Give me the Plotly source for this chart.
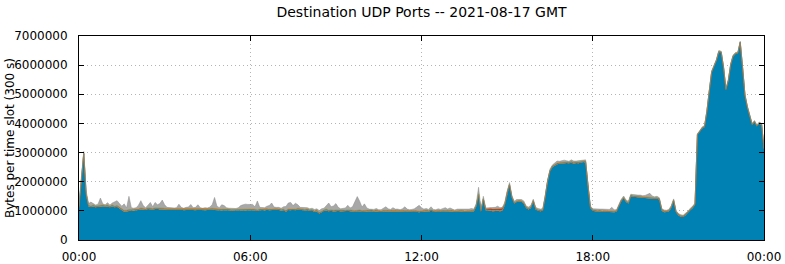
import pandas as pd
import plotly.graph_objects as go

# 5-minute time slots for 2021-08-17 (00:00 .. 24:00)
times = pd.date_range("2021-08-17 00:00", periods=289, freq="5min")

# Values in millions of bytes per 300 s slot
port_main = [
    1.10,1.95,2.95,1.55,1.15,1.13,1.15,1.12,1.14,1.13,1.16,1.13,
    1.15,1.12,1.16,1.12,1.14,1.08,1.02,0.97,0.98,1.00,1.01,1.00,
    1.02,1.03,1.05,1.04,1.03,1.06,1.05,1.04,1.06,1.07,1.05,1.04,
    1.05,1.04,1.03,1.04,1.03,1.02,1.03,1.04,1.02,1.03,1.04,1.03,
    1.03,1.02,1.04,1.03,1.02,1.02,1.03,1.04,1.05,1.03,1.02,1.03,
    1.01,1.02,1.03,1.02,1.00,1.01,1.00,1.02,1.01,1.00,1.01,1.02,
    1.02,1.03,1.01,1.00,1.02,1.03,1.01,1.04,1.02,1.03,1.02,1.04,
    1.03,1.00,1.02,0.97,1.03,1.02,1.04,1.02,1.05,1.03,1.02,1.01,
    1.02,1.00,1.01,0.96,0.98,0.91,0.95,1.00,1.01,0.99,1.00,0.98,
    0.99,1.00,0.98,0.99,0.98,1.00,0.99,0.98,0.97,0.99,0.98,0.97,
    0.98,0.97,0.98,0.99,0.97,0.98,0.97,0.96,0.98,0.97,0.98,0.97,
    0.96,0.97,0.98,0.97,0.96,0.98,0.97,0.96,0.97,0.98,0.97,0.95,
    0.97,0.96,0.98,0.97,1.00,0.97,0.96,0.98,0.97,0.99,0.98,0.97,
    0.98,0.97,0.96,0.97,0.98,0.97,0.96,0.97,0.98,0.97,0.98,1.15,
    1.55,0.98,1.38,1.02,1.00,1.00,0.99,1.00,1.00,0.99,1.00,1.20,
    1.60,1.88,1.45,1.25,1.30,1.32,1.31,1.25,1.10,1.05,1.10,1.32,
    1.05,1.00,0.99,1.00,1.45,2.00,2.35,2.50,2.55,2.60,2.62,2.63,
    2.62,2.64,2.63,2.66,2.62,2.64,2.63,2.65,2.68,2.66,1.80,1.10,
    1.00,0.98,0.97,0.98,0.96,0.97,0.96,0.97,0.96,0.95,0.97,1.15,
    1.33,1.43,1.30,1.25,1.50,1.48,1.47,1.46,1.45,1.44,1.43,1.42,
    1.43,1.42,1.41,1.42,1.38,1.00,0.95,0.96,0.98,1.10,1.34,0.95,
    0.85,0.80,0.79,0.85,0.92,1.02,1.10,1.20,3.60,3.70,3.83,3.88,
    4.40,5.10,5.75,5.95,6.15,6.45,6.43,5.90,5.15,5.45,6.00,6.30,
    6.38,6.40,6.77,5.90,4.95,4.55,4.25,3.95,4.05,3.90,4.00,3.95,
    3.10,
]

port_orange = [
    0.02,0.03,0.02,0.03,0.03,0.02,0.03,0.03,0.02,0.03,0.02,0.03,
    0.03,0.02,0.03,0.02,0.03,0.03,0.02,0.03,0.02,0.03,0.02,0.03,
    0.02,0.02,0.03,0.02,0.02,0.03,0.02,0.02,0.03,0.02,0.02,0.03,
    0.02,0.02,0.03,0.02,0.02,0.02,0.03,0.02,0.02,0.03,0.02,0.02,
    0.02,0.03,0.02,0.02,0.02,0.03,0.02,0.02,0.02,0.03,0.02,0.02,
    0.03,0.02,0.02,0.02,0.03,0.02,0.02,0.02,0.03,0.02,0.02,0.02,
    0.02,0.02,0.03,0.02,0.02,0.02,0.03,0.02,0.02,0.02,0.03,0.02,
    0.02,0.03,0.02,0.02,0.02,0.03,0.02,0.02,0.02,0.03,0.02,0.02,
    0.03,0.02,0.02,0.02,0.03,0.02,0.02,0.02,0.03,0.02,0.02,0.02,
    0.02,0.02,0.03,0.02,0.02,0.02,0.03,0.02,0.02,0.02,0.03,0.02,
    0.02,0.03,0.02,0.02,0.02,0.03,0.02,0.02,0.02,0.03,0.02,0.02,
    0.03,0.02,0.02,0.02,0.03,0.02,0.02,0.02,0.03,0.02,0.02,0.02,
    0.02,0.04,0.03,0.02,0.02,0.02,0.03,0.02,0.02,0.02,0.03,0.02,
    0.02,0.03,0.02,0.02,0.02,0.03,0.02,0.02,0.02,0.03,0.02,0.02,
    0.02,0.02,0.02,0.02,0.02,0.02,0.02,0.02,0.02,0.02,0.02,0.02,
    0.02,0.02,0.02,0.02,0.02,0.02,0.02,0.02,0.02,0.02,0.02,0.02,
    0.02,0.02,0.02,0.02,0.02,0.02,0.02,0.02,0.02,0.02,0.02,0.02,
    0.02,0.02,0.02,0.02,0.02,0.02,0.02,0.02,0.02,0.02,0.02,0.02,
    0.02,0.02,0.02,0.02,0.02,0.02,0.02,0.02,0.02,0.02,0.02,0.02,
    0.02,0.02,0.02,0.02,0.02,0.02,0.02,0.02,0.02,0.02,0.02,0.02,
    0.02,0.02,0.02,0.02,0.02,0.04,0.03,0.02,0.02,0.02,0.02,0.02,
    0.02,0.02,0.02,0.02,0.02,0.02,0.02,0.02,0.01,0.01,0.01,0.01,
    0.01,0.01,0.01,0.01,0.01,0.01,0.01,0.01,0.01,0.01,0.01,0.01,
    0.01,0.01,0.01,0.01,0.01,0.01,0.01,0.01,0.01,0.01,0.01,0.01,
    0.01,
]

port_red = [
    0.01,0.01,0.01,0.01,0.01,0.01,0.01,0.01,0.01,0.01,0.01,0.01,
    0.01,0.01,0.01,0.01,0.01,0.01,0.01,0.01,0.01,0.01,0.01,0.01,
    0.01,0.01,0.01,0.01,0.01,0.01,0.01,0.01,0.01,0.01,0.01,0.01,
    0.01,0.01,0.01,0.01,0.01,0.01,0.01,0.01,0.01,0.01,0.01,0.01,
    0.01,0.01,0.01,0.01,0.01,0.01,0.01,0.01,0.01,0.01,0.01,0.01,
    0.01,0.01,0.01,0.01,0.01,0.01,0.01,0.01,0.01,0.01,0.01,0.01,
    0.01,0.01,0.01,0.01,0.01,0.01,0.01,0.01,0.01,0.01,0.01,0.01,
    0.01,0.01,0.01,0.01,0.01,0.01,0.01,0.01,0.01,0.01,0.01,0.01,
    0.01,0.01,0.01,0.01,0.01,0.01,0.01,0.01,0.01,0.01,0.01,0.01,
    0.01,0.01,0.01,0.01,0.01,0.01,0.01,0.01,0.01,0.01,0.01,0.01,
    0.01,0.01,0.01,0.01,0.01,0.01,0.01,0.01,0.01,0.01,0.01,0.01,
    0.01,0.01,0.01,0.01,0.01,0.01,0.01,0.01,0.01,0.01,0.01,0.01,
    0.01,0.01,0.01,0.01,0.01,0.01,0.01,0.01,0.01,0.01,0.01,0.01,
    0.01,0.01,0.01,0.01,0.01,0.01,0.01,0.01,0.01,0.01,0.01,0.01,
    0.01,0.01,0.01,0.02,0.05,0.06,0.05,0.04,0.05,0.06,0.07,0.01,
    0.01,0.01,0.01,0.01,0.01,0.01,0.01,0.01,0.01,0.01,0.01,0.01,
    0.01,0.01,0.01,0.01,0.01,0.01,0.01,0.01,0.01,0.01,0.01,0.01,
    0.01,0.01,0.01,0.01,0.01,0.01,0.01,0.01,0.01,0.01,0.01,0.01,
    0.01,0.01,0.01,0.01,0.01,0.01,0.01,0.01,0.01,0.01,0.01,0.01,
    0.01,0.01,0.01,0.01,0.01,0.01,0.01,0.01,0.01,0.01,0.01,0.01,
    0.01,0.01,0.01,0.01,0.01,0.01,0.01,0.01,0.01,0.01,0.01,0.01,
    0.01,0.01,0.01,0.01,0.01,0.01,0.01,0.01,0.01,0.01,0.01,0.01,
    0.01,0.01,0.01,0.01,0.01,0.01,0.01,0.01,0.01,0.01,0.01,0.01,
    0.01,0.01,0.01,0.01,0.01,0.01,0.01,0.01,0.01,0.01,0.01,0.01,
    0.01,
]

port_green = [
    0.01,0.01,0.01,0.01,0.01,0.01,0.01,0.01,0.01,0.01,0.01,0.01,
    0.01,0.01,0.01,0.01,0.01,0.01,0.01,0.01,0.01,0.01,0.01,0.01,
    0.01,0.01,0.01,0.01,0.01,0.01,0.01,0.01,0.01,0.01,0.01,0.01,
    0.01,0.01,0.01,0.01,0.01,0.01,0.01,0.01,0.01,0.01,0.01,0.01,
    0.01,0.01,0.01,0.01,0.01,0.01,0.01,0.01,0.01,0.01,0.01,0.01,
    0.01,0.01,0.01,0.01,0.01,0.01,0.01,0.01,0.01,0.01,0.01,0.01,
    0.01,0.01,0.01,0.01,0.01,0.01,0.01,0.01,0.01,0.01,0.01,0.01,
    0.01,0.01,0.01,0.01,0.01,0.01,0.01,0.01,0.01,0.01,0.01,0.01,
    0.01,0.01,0.01,0.01,0.01,0.01,0.01,0.01,0.01,0.01,0.01,0.01,
    0.01,0.01,0.01,0.01,0.01,0.01,0.01,0.01,0.01,0.01,0.01,0.01,
    0.01,0.01,0.01,0.01,0.01,0.01,0.01,0.01,0.01,0.01,0.01,0.01,
    0.01,0.01,0.01,0.01,0.01,0.01,0.01,0.01,0.01,0.01,0.01,0.01,
    0.01,0.01,0.01,0.01,0.01,0.01,0.01,0.01,0.01,0.01,0.01,0.01,
    0.01,0.01,0.01,0.01,0.01,0.01,0.01,0.01,0.01,0.01,0.01,0.01,
    0.01,0.01,0.01,0.01,0.01,0.01,0.01,0.01,0.01,0.01,0.01,0.01,
    0.01,0.01,0.01,0.01,0.01,0.01,0.01,0.01,0.01,0.01,0.01,0.01,
    0.01,0.01,0.01,0.01,0.01,0.01,0.01,0.01,0.01,0.01,0.01,0.01,
    0.01,0.01,0.01,0.01,0.02,0.01,0.02,0.01,0.01,0.02,0.01,0.01,
    0.01,0.01,0.01,0.01,0.01,0.01,0.01,0.01,0.01,0.01,0.01,0.01,
    0.01,0.01,0.01,0.01,0.01,0.01,0.01,0.01,0.01,0.01,0.01,0.01,
    0.01,0.01,0.01,0.01,0.01,0.01,0.01,0.01,0.01,0.01,0.01,0.01,
    0.01,0.01,0.01,0.01,0.01,0.01,0.01,0.01,0.01,0.01,0.01,0.01,
    0.01,0.01,0.01,0.01,0.01,0.01,0.01,0.01,0.01,0.01,0.01,0.01,
    0.01,0.01,0.01,0.01,0.01,0.01,0.01,0.01,0.01,0.01,0.01,0.01,
    0.01,
]

port_other = [
    0.15,0.10,0.05,0.10,0.05,0.13,0.04,0.03,0.05,0.26,0.04,0.03,
    0.08,0.04,0.06,0.15,0.16,0.12,0.10,0.22,0.08,0.45,0.06,0.04,
    0.05,0.12,0.25,0.10,0.04,0.08,0.20,0.06,0.18,0.10,0.16,0.28,
    0.12,0.04,0.03,0.04,0.03,0.05,0.15,0.04,0.03,0.04,0.05,0.15,
    0.04,0.05,0.13,0.04,0.03,0.04,0.03,0.05,0.12,0.38,0.10,0.04,
    0.15,0.12,0.04,0.03,0.04,0.03,0.04,0.05,0.12,0.17,0.18,0.16,
    0.17,0.15,0.08,0.30,0.06,0.04,0.05,0.08,0.12,0.20,0.06,0.04,
    0.05,0.04,0.08,0.14,0.20,0.22,0.10,0.20,0.12,0.04,0.05,0.07,
    0.04,0.03,0.04,0.05,0.04,0.06,0.08,0.05,0.14,0.24,0.10,0.15,
    0.22,0.08,0.04,0.05,0.08,0.15,0.06,0.12,0.28,0.46,0.30,0.12,
    0.22,0.08,0.04,0.03,0.04,0.05,0.03,0.04,0.06,0.12,0.05,0.04,
    0.10,0.05,0.04,0.03,0.06,0.12,0.05,0.04,0.03,0.05,0.12,0.20,
    0.10,0.04,0.05,0.04,0.10,0.04,0.03,0.05,0.04,0.06,0.08,0.05,
    0.08,0.04,0.03,0.05,0.04,0.03,0.04,0.05,0.04,0.06,0.04,0.05,
    0.22,0.04,0.08,0.03,0.02,0.03,0.04,0.05,0.08,0.03,0.02,0.05,
    0.03,0.05,0.03,0.04,0.05,0.03,0.04,0.05,0.03,0.04,0.05,0.04,
    0.03,0.04,0.03,0.04,0.03,0.03,0.04,0.03,0.05,0.07,0.04,0.06,
    0.08,0.04,0.03,0.05,0.04,0.03,0.04,0.05,0.03,0.04,0.03,0.03,
    0.03,0.04,0.05,0.04,0.06,0.04,0.06,0.04,0.12,0.05,0.03,0.03,
    0.03,0.04,0.03,0.04,0.03,0.04,0.03,0.04,0.05,0.04,0.06,0.10,
    0.13,0.05,0.03,0.04,0.03,0.02,0.03,0.02,0.03,0.04,0.03,0.02,
    0.02,0.03,0.02,0.03,0.02,0.03,0.02,0.03,0.02,0.02,0.02,0.02,
    0.02,0.02,0.02,0.02,0.02,0.02,0.02,0.02,0.02,0.02,0.02,0.02,
    0.02,0.02,0.02,0.02,0.02,0.02,0.02,0.02,0.02,0.02,0.02,0.02,
    0.02,
]

series = [
    ("main", port_main, "#0081b4", "#1f7a8a"),
    ("orange", port_orange, "#e8821e", "#d07a28"),
    ("red", port_red, "#c8321e", "#c03020"),
    ("green", port_green, "#6aa83a", "#6a9a4a"),
    ("other", port_other, "#a8a8a8", "#8a8a8a"),
]

fig = go.Figure()
for name, vals, fillc, linec in series:
    fig.add_trace(go.Scatter(
        x=times, y=[v * 1e6 for v in vals], name=name,
        mode="lines", stackgroup="one", fillcolor=fillc,
        line=dict(color=linec, width=0.5), hoverinfo="skip",
    ))

font_family = "DejaVu Sans, sans-serif"
fig.update_layout(
    width=785, height=264,
    margin=dict(l=79, r=21, t=36, b=24, autoexpand=False),
    paper_bgcolor="white", plot_bgcolor="white",
    showlegend=False,
    font=dict(family=font_family, size=12, color="black"),
    title=dict(text="Destination UDP Ports -- 2021-08-17 GMT",
               x=421.5 / 785, xanchor="center",
               y=1 - 12 / 264, yanchor="middle",
               font=dict(family=font_family, size=14, color="black")),
    annotations=[dict(
        text="Bytes per time slot (300 s)", textangle=-90,
        xref="paper", yref="paper", x=(10 - 79) / 685, y=0.5,
        xanchor="center", yanchor="middle", showarrow=False,
        font=dict(family=font_family, size=12, color="black"),
    )],
)
fig.update_xaxes(
    range=["2021-08-17 00:00", "2021-08-18 00:00"],
    tickformat="%H:%M", dtick=6 * 3600 * 1000,
    tick0="2021-08-17 00:00", automargin=False,
    showline=True, linecolor="black", linewidth=1, mirror="ticks",
    ticks="inside", ticklen=5, tickcolor="black",
    showgrid=True, gridcolor="#b4b4b4", griddash="1px,3px", gridwidth=1,
    zeroline=False, tickfont=dict(size=12), ticklabelstandoff=6,
)
fig.update_yaxes(
    range=[0, 7e6], dtick=1e6, tickformat="d", automargin=False,
    showline=True, linecolor="black", linewidth=1, mirror="ticks",
    ticks="inside", ticklen=5, tickcolor="black",
    showgrid=True, gridcolor="#b4b4b4", griddash="1px,3px", gridwidth=1,
    zeroline=False, tickfont=dict(size=12), ticklabelstandoff=8,
)

fig.write_html("out.html")
